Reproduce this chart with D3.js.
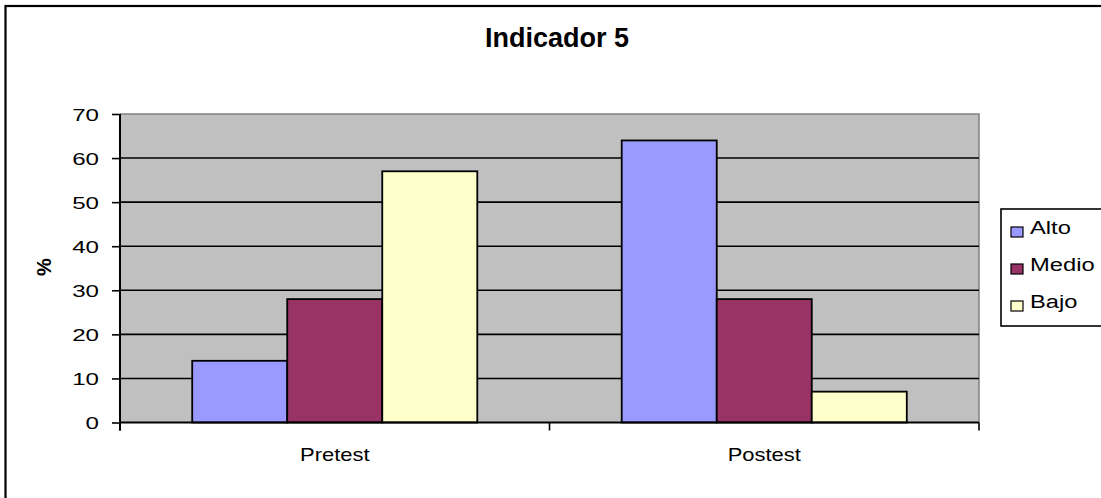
<!DOCTYPE html>
<html>
<head>
<meta charset="utf-8">
<script src="https://cdn.jsdelivr.net/npm/d3@7/dist/d3.min.js"></script>
<style>
  html, body { margin: 0; padding: 0; background: #fff; }
  svg { display: block; font-family: "Liberation Sans", Arial, sans-serif; }
</style>
</head>
<body>
<svg id="chart" width="1101" height="498"></svg>
<script>
const title = "Indicador 5";
const yAxisLabel = "%";
const categories = ["Pretest", "Postest"];
const seriesNames = ["Alto", "Medio", "Bajo"];
const alto = [14, 64];
const medio = [28, 28];
const bajo = [57, 7];
const yTicks = [0, 10, 20, 30, 40, 50, 60, 70];
const colors = ["#9999FF", "#993366", "#FFFFCC"];

const seriesValues = [alto, medio, bajo];
const svg = d3.select("#chart");

// outer chart border (extends beyond the visible frame)
svg.append("rect").attr("x", 5.5).attr("y", 6).attr("width", 1110).attr("height", 510)
  .attr("fill", "#fff").attr("stroke", "#000").attr("stroke-width", 2.2);

const plot = { left: 120, top: 114, right: 979, bottom: 422.5 };
const x0 = d3.scaleBand().domain(categories).range([plot.left, plot.right]).paddingInner(0).paddingOuter(0);
const x1 = d3.scaleBand().domain(seriesNames).range([0, x0.bandwidth()]).paddingInner(0).paddingOuter(0.76);
const y = d3.scaleLinear().domain([0, 70]).range([plot.bottom, plot.top]);

// plot background
svg.append("rect").attr("x", plot.left).attr("y", plot.top)
  .attr("width", plot.right - plot.left).attr("height", plot.bottom - plot.top)
  .attr("fill", "#C0C0C0");
// top/right border gray
svg.append("path")
  .attr("d", `M${plot.left},${plot.top}H${plot.right}V${plot.bottom}`)
  .attr("fill", "none").attr("stroke", "#808080").attr("stroke-width", 1.5);

// gridlines
svg.append("g").selectAll("line").data(yTicks.filter(d => d > 0 && d < 70)).join("line")
  .attr("x1", plot.left).attr("x2", plot.right)
  .attr("y1", d => y(d)).attr("y2", d => y(d))
  .attr("stroke", "#000").attr("stroke-width", 1.6);

// bars
const groups = svg.append("g").selectAll("g").data(categories).join("g")
  .attr("transform", d => `translate(${x0(d)},0)`);
groups.selectAll("rect").data((c, ci) => seriesNames.map((s, si) => ({ s, si, v: seriesValues[si][ci] })))
  .join("rect")
  .attr("x", d => x1(d.s)).attr("width", x1.bandwidth())
  .attr("y", d => y(d.v)).attr("height", d => y(0) - y(d.v))
  .attr("fill", d => colors[d.si]).attr("stroke", "#000").attr("stroke-width", 1.8);

// y axis
const yAxis = d3.axisLeft(y).tickValues(yTicks).tickSize(8).tickPadding(6);
const gy = svg.append("g").attr("transform", `translate(${plot.left},0)`).call(yAxis);
gy.select(".domain").attr("stroke", "#000").attr("stroke-width", 2)
  .attr("d", `M0,${plot.top}V${plot.bottom + 8}`);
gy.selectAll(".tick line").attr("stroke", "#000").attr("stroke-width", 1.6);
gy.selectAll(".tick text").attr("fill", "#000").attr("font-size", 17)
  .attr("font-family", "Liberation Sans, Arial, sans-serif")
  .attr("x", null).attr("text-anchor", "end").attr("dy", "0.36em")
  .attr("transform", "translate(-21,0) scale(1.42,1)");

// x axis
svg.append("line").attr("x1", plot.left).attr("x2", plot.right)
  .attr("y1", plot.bottom).attr("y2", plot.bottom)
  .attr("stroke", "#000").attr("stroke-width", 2);
const xBounds = categories.map(c => x0(c)).concat([x0(categories[categories.length - 1]) + x0.bandwidth()]);
svg.append("g").selectAll("line").data(xBounds).join("line")
  .attr("x1", d => d).attr("x2", d => d)
  .attr("y1", plot.bottom).attr("y2", plot.bottom + 8)
  .attr("stroke", "#000").attr("stroke-width", 1.6);
svg.append("g").selectAll("text").data(categories).join("text")
  .attr("transform", d => `translate(${x0(d) + x0.bandwidth() / 2},461) scale(1.22,1)`)
  .attr("text-anchor", "middle").attr("font-size", 18).attr("fill", "#000")
  .text(d => d);

// title
svg.append("text").attr("x", 557).attr("y", 47)
  .attr("text-anchor", "middle").attr("font-size", 27).attr("font-weight", "bold")
  .attr("fill", "#000").text(title);

// y axis label
svg.append("text").attr("transform", "translate(51,267) rotate(-90)")
  .attr("text-anchor", "middle").attr("font-size", 20).attr("font-weight", "bold")
  .attr("fill", "#000").text(yAxisLabel);

// legend
const lg = svg.append("g");
lg.append("rect").attr("x", 1001).attr("y", 209).attr("width", 120).attr("height", 117)
  .attr("fill", "#fff").attr("stroke", "#000").attr("stroke-width", 1.6);
const items = lg.selectAll("g.item").data(seriesNames).join("g")
  .attr("transform", (d, i) => `translate(0,${i * 37})`);
items.append("rect").attr("x", 1011).attr("y", 227).attr("width", 12).attr("height", 10)
  .attr("fill", (d, i) => colors[i]).attr("stroke", "#000").attr("stroke-width", 1.2);
items.append("text").attr("transform", "translate(1030,234) scale(1.32,1)")
  .attr("font-size", 18).attr("fill", "#000").text(d => d);
</script>
</body>
</html>
